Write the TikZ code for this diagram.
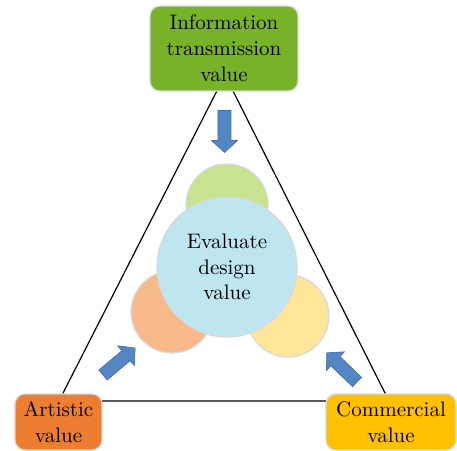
\documentclass[tikz,border=0pt]{standalone}
\definecolor{topgreen}{RGB}{120,178,40}
\definecolor{artorange}{RGB}{237,125,49}
\definecolor{comgold}{RGB}{255,192,0}
\definecolor{cgreen}{RGB}{200,228,145}
\definecolor{corange}{RGB}{248,186,138}
\definecolor{cyellow}{RGB}{255,230,155}
\definecolor{cblue}{RGB}{189,230,241}
\definecolor{arrowblue}{RGB}{84,134,195}
\definecolor{arrowedge}{RGB}{65,110,170}
\begin{document}
\begin{tikzpicture}[x=0.5pt,y=-0.5pt,
  box/.style={draw=black!15, line width=0.6pt, rounded corners=5pt, align=center,
    font=\fontsize{10.5}{13}\selectfont, inner sep=0pt, text=black},
  disc/.style={circle, draw=black!15, line width=0.6pt, inner sep=0pt, minimum size=41pt},
  bigdisc/.style={circle, draw=black!15, line width=0.6pt, inner sep=0pt, minimum size=70pt,
    fill=cblue, align=center, font=\fontsize{10.5}{12.8}\selectfont, text=black},
  tri/.style={draw=black, line width=0.6pt},
  arrowstyle/.style={fill=arrowblue, draw=arrowedge, line width=0.3pt},
  barrow/.pic={\draw[arrowstyle] (0,-6.5) -- (30,-6.5) -- (30,-13) -- (42,0) -- (30,13) -- (30,6.5) -- (0,6.5) -- cycle;}
]
\useasboundingbox (0,0) rectangle (457,451);
% triangle
\coordinate (apex) at (225,75);
\coordinate (bl) at (59,401);
\coordinate (br) at (389,401);
\draw[tri] (apex) -- (bl) -- (br) -- cycle;
% corner boxes
\node[box, fill=topgreen, minimum width=74pt, minimum height=42.5pt] (info) at (224,48.5)
  {Information\\transmission\\value};
\node[box, fill=artorange, minimum width=43.5pt, minimum height=28pt] (art) at (58.5,422)
  {Artistic\\value};
\node[box, fill=comgold, minimum width=65pt, minimum height=28pt] (com) at (391,422)
  {Commercial\\value};
% circles
\node[disc, fill=cgreen] (cg) at (227,205) {};
\node[disc, fill=corange] (co) at (172,312) {};
\node[disc, fill=cyellow] (cy) at (288,316) {};
\node[bigdisc] (eval) at (227,267) {Evaluate\\design\\value};
% block arrows
\pic[rotate=-90] (a1) at (224.5,110.5) {barrow};
\pic[rotate=40] (a2) at (103,375) {barrow};
\pic[rotate=136] (a3) at (357,382) {barrow};
\end{tikzpicture}
\end{document}
